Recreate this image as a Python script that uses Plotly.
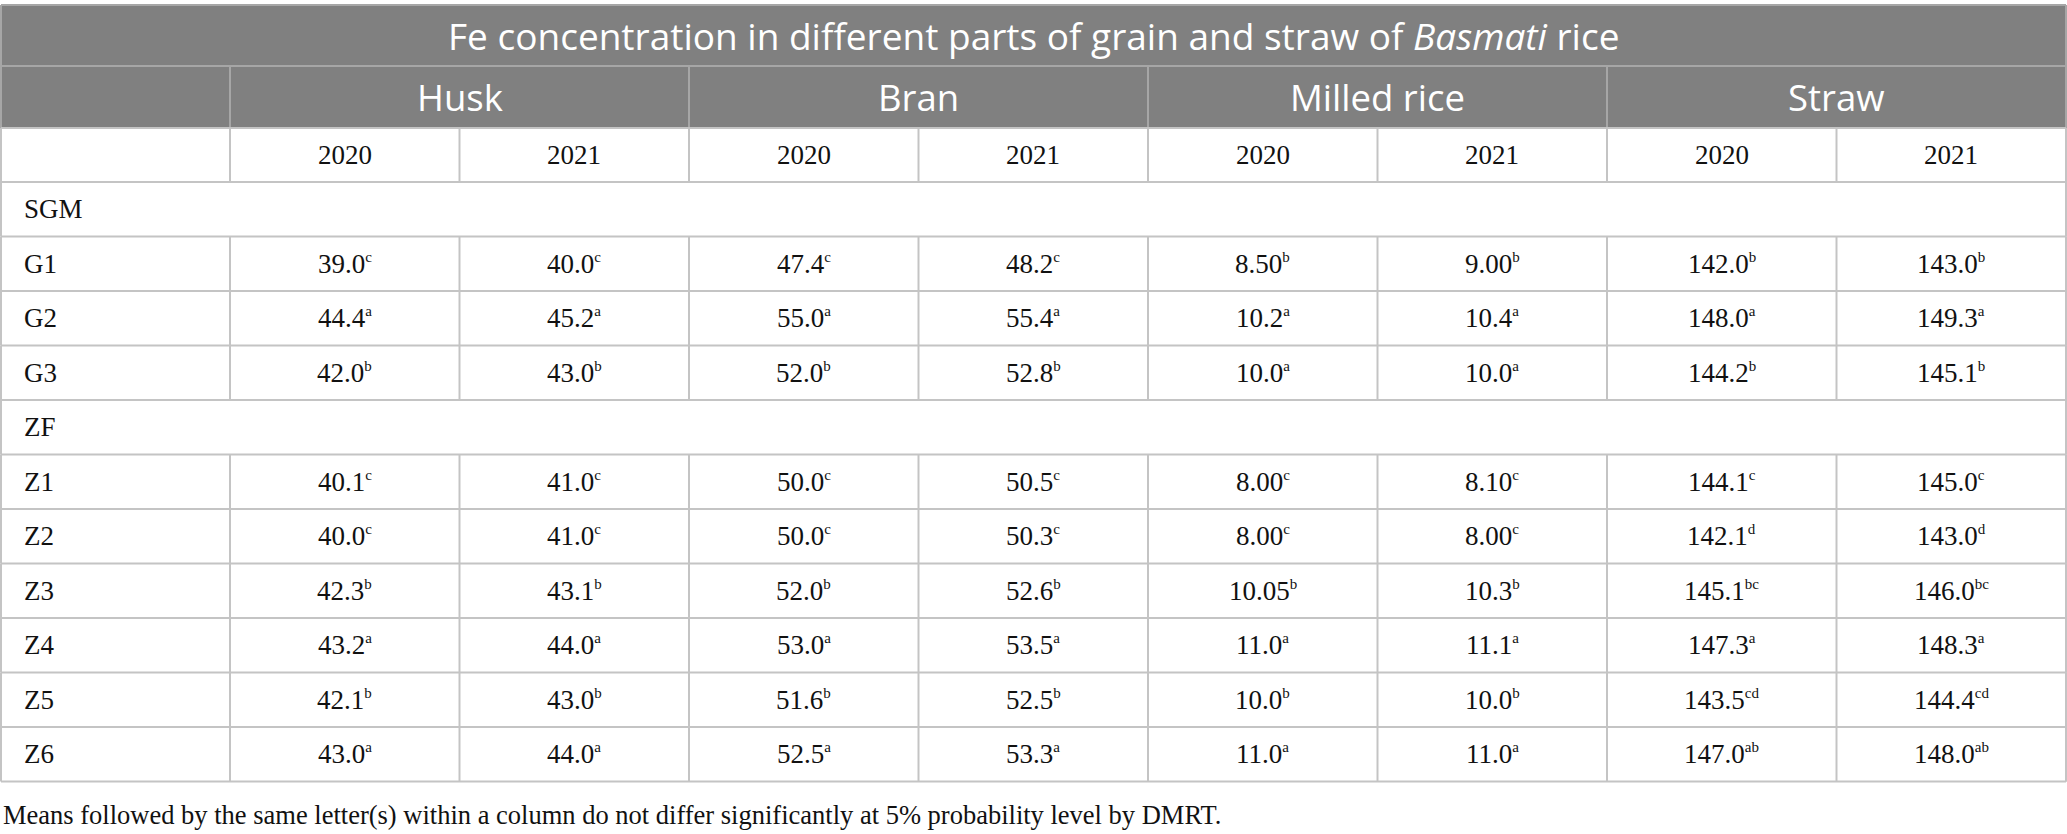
"""Fe concentration table (Basmati rice) drawn with plotly shapes + annotations."""

import plotly.graph_objects as go

# ----- data ------------------------------------------------------------------

TITLE = "Fe concentration in different parts of grain and straw of <i>Basmati</i> rice"
FOOTNOTE = ("Means followed by the same letter(s) within a column do not differ "
            "significantly at 5% probability level by DMRT.")

PARTS = ["Husk", "Bran", "Milled rice", "Straw"]
YEARS = ["2020", "2021"]

GROUPS = ["SGM", "ZF"]
SGM_ROWS = ["G1", "G2", "G3"]
ZF_ROWS = ["Z1", "Z2", "Z3", "Z4", "Z5", "Z6"]

husk_2020 = ["39.0", "44.4", "42.0", "40.1", "40.0", "42.3", "43.2", "42.1", "43.0"]
husk_2020_sig = ["c", "a", "b", "c", "c", "b", "a", "b", "a"]
husk_2021 = ["40.0", "45.2", "43.0", "41.0", "41.0", "43.1", "44.0", "43.0", "44.0"]
husk_2021_sig = ["c", "a", "b", "c", "c", "b", "a", "b", "a"]

bran_2020 = ["47.4", "55.0", "52.0", "50.0", "50.0", "52.0", "53.0", "51.6", "52.5"]
bran_2020_sig = ["c", "a", "b", "c", "c", "b", "a", "b", "a"]
bran_2021 = ["48.2", "55.4", "52.8", "50.5", "50.3", "52.6", "53.5", "52.5", "53.3"]
bran_2021_sig = ["c", "a", "b", "c", "c", "b", "a", "b", "a"]

milled_2020 = ["8.50", "10.2", "10.0", "8.00", "8.00", "10.05", "11.0", "10.0", "11.0"]
milled_2020_sig = ["b", "a", "a", "c", "c", "b", "a", "b", "a"]
milled_2021 = ["9.00", "10.4", "10.0", "8.10", "8.00", "10.3", "11.1", "10.0", "11.0"]
milled_2021_sig = ["b", "a", "a", "c", "c", "b", "a", "b", "a"]

straw_2020 = ["142.0", "148.0", "144.2", "144.1", "142.1", "145.1", "147.3", "143.5", "147.0"]
straw_2020_sig = ["b", "a", "b", "c", "d", "bc", "a", "cd", "ab"]
straw_2021 = ["143.0", "149.3", "145.1", "145.0", "143.0", "146.0", "148.3", "144.4", "148.0"]
straw_2021_sig = ["b", "a", "b", "c", "d", "bc", "a", "cd", "ab"]

COLUMNS = [
    (husk_2020, husk_2020_sig), (husk_2021, husk_2021_sig),
    (bran_2020, bran_2020_sig), (bran_2021, bran_2021_sig),
    (milled_2020, milled_2020_sig), (milled_2021, milled_2021_sig),
    (straw_2020, straw_2020_sig), (straw_2021, straw_2021_sig),
]

# ----- layout constants ------------------------------------------------------

W, H = 2067, 834
TOP = 5
TITLE_H = 61
PART_H = 62
YEAR_H = 54
ROW_H = 54.5
LABEL_W = 230
X_LEFT = 1
X_END = W - 1
COL_W = (X_END - LABEL_W) / 8

HEAD_FILL = "#808080"
HEAD_LINE = "#a6a6a6"
GRID = "#c4c4c4"
SANS = "Open Sans"
SERIF = "Liberation Serif"

# body rows: (label, index into value columns or None for a group row)
body = [(GROUPS[0], None)] + [(r, i) for i, r in enumerate(SGM_ROWS)]
body += [(GROUPS[1], None)] + [(r, len(SGM_ROWS) + i) for i, r in enumerate(ZF_ROWS)]

y_part = TOP + TITLE_H
y_year = y_part + PART_H
y_body = y_year + YEAR_H
y_end = y_body + ROW_H * len(body)


def col_x(j):
    return LABEL_W + COL_W * j


shapes = []
annotations = []


def hline(y, color, x0=X_LEFT, x1=X_END):
    shapes.append(dict(type="line", x0=x0, x1=x1, y0=y, y1=y,
                       line=dict(color=color, width=2)))


def vline(x, y0, y1, color):
    shapes.append(dict(type="line", x0=x, x1=x, y0=y0, y1=y1,
                       line=dict(color=color, width=2)))


def text(x, y, s, size, family, color="#111111", anchor="center"):
    annotations.append(dict(x=x, y=y, text=s, showarrow=False, xanchor=anchor,
                            yanchor="middle", font=dict(size=size, family=family, color=color)))


# header fill
shapes.append(dict(type="rect", x0=X_LEFT, x1=X_END, y0=TOP, y1=y_year,
                   fillcolor=HEAD_FILL, line=dict(width=0), layer="below"))
hline(TOP, HEAD_LINE)
hline(y_part, HEAD_LINE)
vline(X_LEFT, TOP, y_year, HEAD_LINE)
vline(X_END, TOP, y_year, HEAD_LINE)
vline(LABEL_W, y_part, y_year, HEAD_LINE)
for k in range(1, len(PARTS)):
    vline(col_x(2 * k), y_part, y_year, HEAD_LINE)

text(W / 2, TOP + TITLE_H / 2, TITLE, 37, SANS, "white")
for k, p in enumerate(PARTS):
    text((col_x(2 * k) + col_x(2 * k + 2)) / 2, y_part + PART_H / 2, p, 36.5, SANS, "white")

# year row
hline(y_year, GRID)
hline(y_body, GRID)
vline(X_LEFT, y_year, y_body, GRID)
for j in range(9):
    vline(col_x(j), y_year, y_body, GRID)
for j in range(8):
    text(col_x(j) + COL_W / 2, y_year + YEAR_H / 2, YEARS[j % 2], 27, SERIF)

# body rows
for r, (label, idx) in enumerate(body):
    y0 = y_body + ROW_H * r
    y1 = y0 + ROW_H
    hline(y1, GRID)
    vline(X_LEFT, y0, y1, GRID)
    vline(X_END, y0, y1, GRID)
    text(22, (y0 + y1) / 2, label, 27, SERIF, anchor="left")
    if idx is None:
        continue
    for j in range(9):
        vline(col_x(j), y0, y1, GRID)
    for j, (vals, sig) in enumerate(COLUMNS):
        cell = f"{vals[idx]}<sup><span style='font-size:15px'>{sig[idx]}</span></sup>"
        text(col_x(j) + COL_W / 2, (y0 + y1) / 2, cell, 27, SERIF)

text(1, y_end + 33, FOOTNOTE, 26.5, SERIF, anchor="left")

fig = go.Figure()
fig.update_layout(
    width=W, height=H,
    margin=dict(l=0, r=0, t=0, b=0, pad=0),
    paper_bgcolor="white", plot_bgcolor="white",
    xaxis=dict(range=[0, W], visible=False, fixedrange=True),
    yaxis=dict(range=[H, 0], visible=False, fixedrange=True),
    shapes=shapes, annotations=annotations,
    showlegend=False,
)
# page body has an 8px default margin; drop it so the figure sits at the corner
fig.write_html("out.html", config={"displayModeBar": False},
               post_script="document.body.style.margin = '0';")
